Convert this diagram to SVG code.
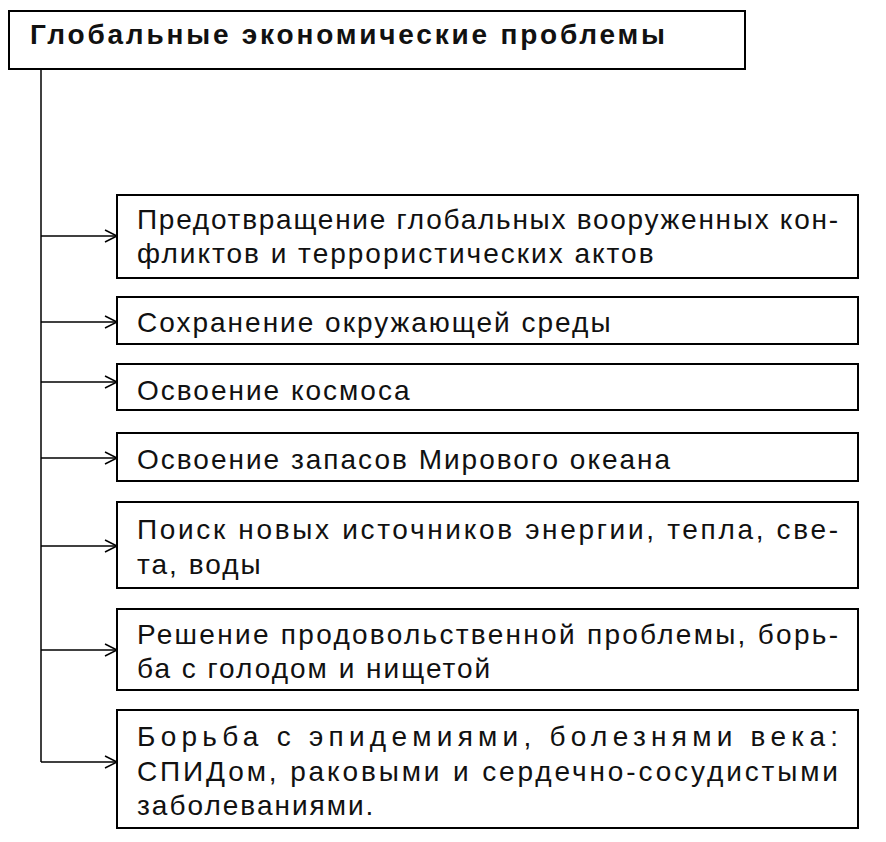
<svg xmlns="http://www.w3.org/2000/svg" width="886" height="842" viewBox="0 0 886 842">
<style>
rect{fill:#fff;stroke:#000;stroke-width:2}
text{font-family:"Liberation Sans",Arial,sans-serif;font-size:28px;letter-spacing:2px;fill:#111}
.t{font-weight:bold;font-size:28px;letter-spacing:2.8px}
.c line,.c path{stroke:#000;stroke-width:1.5;fill:none}
</style>
<rect x="0" y="0" width="886" height="842" style="fill:#fff;stroke:none"/>
<g id="title"><rect x="9" y="11" width="736" height="58"/><text class="t" x="30" y="44">Глобальные экономические проблемы</text></g>
<g class="c">
<line x1="41" y1="69" x2="41" y2="762"/>
<line x1="41" y1="236" x2="117" y2="236"/><path d="M105 230 L117 236 L105 242"/>
<line x1="41" y1="322" x2="117" y2="322"/><path d="M105 316 L117 322 L105 328"/>
<line x1="41" y1="382" x2="117" y2="382"/><path d="M105 376 L117 382 L105 388"/>
<line x1="41" y1="458" x2="117" y2="458"/><path d="M105 452 L117 458 L105 464"/>
<line x1="41" y1="546" x2="117" y2="546"/><path d="M105 540 L117 546 L105 552"/>
<line x1="41" y1="650" x2="117" y2="650"/><path d="M105 644 L117 650 L105 656"/>
<line x1="41" y1="762" x2="117" y2="762"/><path d="M105 756 L117 762 L105 768"/>
</g>
<g id="n1"><rect x="117" y="195" width="741" height="83"/><text x="137" y="229" textLength="703" lengthAdjust="spacing">Предотвращение глобальных вооруженных кон-</text><text x="137" y="263">фликтов и террористических актов</text></g>
<g id="n2"><rect x="117" y="297" width="741" height="47"/><text x="137" y="332">Сохранение окружающей среды</text></g>
<g id="n3"><rect x="117" y="364" width="741" height="46"/><text x="137" y="400">Освоение космоса</text></g>
<g id="n4"><rect x="117" y="433" width="741" height="48"/><text x="137" y="469">Освоение запасов Мирового океана</text></g>
<g id="n5"><rect x="117" y="502" width="741" height="86"/><text x="137" y="539" textLength="703" lengthAdjust="spacing">Поиск новых источников энергии, тепла, све-</text><text x="137" y="574">та, воды</text></g>
<g id="n6"><rect x="117" y="609" width="741" height="81"/><text x="137" y="644" textLength="703" lengthAdjust="spacing">Решение продовольственной проблемы, борь-</text><text x="137" y="678">ба с голодом и нищетой</text></g>
<g id="n7"><rect x="117" y="710" width="741" height="118"/><text x="137" y="746" textLength="703" lengthAdjust="spacing">Борьба с эпидемиями, болезнями века:</text><text x="137" y="781" textLength="703" lengthAdjust="spacing">СПИДом, раковыми и сердечно-сосудистыми</text><text x="137" y="815">заболеваниями.</text></g>
</svg>
